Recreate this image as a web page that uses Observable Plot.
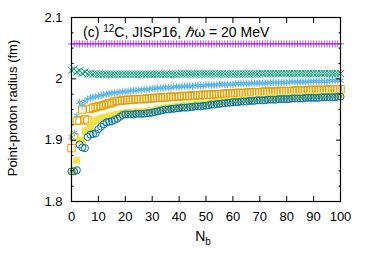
<!DOCTYPE html>
<html><head><meta charset="utf-8">
<script src="https://cdn.jsdelivr.net/npm/d3@7"></script>
<script src="https://cdn.jsdelivr.net/npm/@observablehq/plot@0.6"></script>
<style>body{margin:0;background:#fff} svg{font-family:"Liberation Sans",Arial,sans-serif}</style>
</head><body><div id="chart"></div>
<script>
const nb = [0,1,2,3,4,5,6,7,8,9,10,11,12,13,14,15,16,17,18,19,20,21,22,23,24,25,26,27,28,29,30,31,32,33,34,35,36,37,38,39,40,41,42,43,44,45,46,47,48,49,50,51,52,53,54,55,56,57,58,59,60,61,62,63,64,65,66,67,68,69,70,71,72,73,74,75,76,77,78,79,80,81,82,83,84,85,86,87,88,89,90,91,92,93,94,95,96,97,98,99,100];

const purple = [2.057,2.057,2.057,2.057,2.057,2.057,2.057,2.057,2.057,2.057,2.057,2.057,2.057,2.057,2.057,2.057,2.057,2.057,2.057,2.057,2.057,2.057,2.057,2.057,2.057,2.057,2.057,2.057,2.057,2.057,2.057,2.057,2.057,2.057,2.057,2.057,2.057,2.057,2.057,2.057,2.057,2.057,2.057,2.057,2.057,2.057,2.057,2.057,2.057,2.057,2.057,2.057,2.057,2.057,2.057,2.057,2.057,2.057,2.057,2.057,2.057,2.057,2.057,2.057,2.057,2.057,2.057,2.057,2.057,2.057,2.057,2.057,2.057,2.057,2.057,2.057,2.057,2.057,2.057,2.057,2.057,2.057,2.057,2.057,2.057,2.057,2.057,2.057,2.057,2.057,2.057,2.057,2.057,2.057,2.057,2.057,2.057,2.057,2.057,2.057,2.057];

const green = [2.014,2.016,2.011,2.013,2.009,2.011,2.008,2.009,2.008,2.008,
2.0075,2.0075,2.0075,2.0075,2.0075,2.0075,2.0075,2.0075,2.0075,2.0075,
2.0075,2.0075,2.0075,2.0075,2.0075,2.0075,2.0075,2.0075,2.0075,2.0075,
2.0075,2.0075,2.0075,2.0075,2.0075,2.0075,2.0075,2.0075,2.0075,2.0075,
2.008,2.008,2.008,2.008,2.008,2.008,2.008,2.008,2.008,2.008,
2.008,2.008,2.008,2.008,2.008,2.008,2.008,2.008,2.008,2.008,
2.008,2.008,2.008,2.008,2.008,2.008,2.008,2.008,2.008,2.008,
2.0085,2.0085,2.0085,2.0085,2.0085,2.0085,2.0085,2.0085,2.0085,2.0085,
2.0085,2.0085,2.0085,2.0085,2.0085,2.0085,2.0085,2.0085,2.0085,2.0085,
2.0085,2.0085,2.0085,2.0085,2.0085,2.0085,2.0085,2.0085,2.0085,2.0085,2.0085];

const lightblue = [1.905,1.912,1.940,1.962,1.957,1.963,1.967,1.969,1.970,1.971,
1.972,1.973,1.974,1.975,1.976,1.977,1.977,1.978,1.978,1.979,
1.979,1.980,1.980,1.981,1.981,1.982,1.982,1.983,1.983,1.983,
1.984,1.984,1.985,1.985,1.985,1.986,1.986,1.986,1.987,1.987,
1.987,1.987,1.988,1.988,1.988,1.988,1.989,1.989,1.989,1.989,
1.990,1.990,1.990,1.990,1.990,1.991,1.991,1.991,1.991,1.991,
1.991,1.992,1.992,1.992,1.992,1.992,1.992,1.993,1.993,1.993,
1.993,1.993,1.993,1.993,1.994,1.994,1.994,1.994,1.994,1.994,
1.994,1.995,1.995,1.995,1.995,1.995,1.995,1.995,1.995,1.996,
1.996,1.996,1.996,1.996,1.996,1.996,1.997,1.997,1.997,1.997,1.997];

const orange = [1.887,1.905,1.932,1.932,1.950,1.934,1.932,1.951,1.953,1.954,
1.955,1.956,1.957,1.959,1.960,1.961,1.963,1.964,1.964,1.965,
1.965,1.966,1.966,1.966,1.967,1.967,1.967,1.967,1.968,1.968,
1.968,1.969,1.969,1.969,1.970,1.970,1.970,1.971,1.971,1.971,
1.971,1.972,1.972,1.972,1.972,1.973,1.973,1.973,1.973,1.974,
1.974,1.974,1.974,1.975,1.975,1.975,1.975,1.976,1.976,1.976,
1.976,1.977,1.977,1.977,1.977,1.977,1.978,1.978,1.978,1.978,
1.978,1.979,1.979,1.979,1.979,1.979,1.979,1.980,1.980,1.980,
1.980,1.980,1.980,1.981,1.981,1.981,1.981,1.981,1.981,1.982,
1.982,1.982,1.982,1.982,1.982,1.982,1.983,1.983,1.983,1.983,1.983];

const yellow = [1.849,1.851,1.867,1.900,1.899,1.914,1.916,1.920,1.930,1.932,
1.934,1.936,1.937,1.938,1.939,1.940,1.941,1.942,1.943,1.944,
1.945,1.945,1.945,1.946,1.946,1.946,1.947,1.947,1.947,1.948,
1.948,1.949,1.950,1.951,1.952,1.953,1.953,1.954,1.954,1.955,
1.955,1.956,1.956,1.956,1.957,1.957,1.958,1.958,1.958,1.959,
1.959,1.960,1.961,1.961,1.962,1.962,1.963,1.963,1.964,1.964,
1.965,1.965,1.965,1.966,1.966,1.966,1.967,1.967,1.967,1.968,
1.968,1.968,1.968,1.969,1.969,1.969,1.969,1.970,1.970,1.970,
1.970,1.970,1.971,1.971,1.971,1.971,1.971,1.972,1.972,1.972,
1.972,1.972,1.972,1.973,1.973,1.973,1.973,1.973,1.973,1.974,1.974];

const blue = [1.849,1.849,1.851,1.893,1.888,1.887,1.905,1.909,1.910,1.911,
1.918,1.922,1.926,1.929,1.930,1.931,1.933,1.935,1.938,1.941,
1.942,1.942,1.942,1.942,1.943,1.943,1.943,1.943,1.944,1.944,
1.945,1.946,1.947,1.948,1.949,1.950,1.950,1.951,1.951,1.952,
1.952,1.953,1.953,1.953,1.954,1.954,1.955,1.955,1.955,1.956,
1.956,1.957,1.958,1.958,1.959,1.959,1.960,1.960,1.961,1.961,
1.962,1.962,1.962,1.963,1.963,1.963,1.964,1.964,1.964,1.965,
1.965,1.965,1.965,1.966,1.966,1.966,1.966,1.967,1.967,1.967,
1.967,1.967,1.968,1.968,1.968,1.968,1.968,1.969,1.969,1.969,
1.969,1.969,1.969,1.970,1.970,1.970,1.970,1.970,1.970,1.971,1.971];

const xTicks = [0,10,20,30,40,50,60,70,80,90,100];
const yTicks = [1.8,1.9,2,2.1];
const yMinor = [1.825,1.85,1.875,1.925,1.95,1.975,2.025,2.05,2.075];

const series = [
  {values: purple, symbol: "plus", color: "#a020f0", filled: false, r: 2.4, sw: 0.8},
  {values: green, symbol: "times", color: "#009e73", filled: false, r: 3.4, sw: 1},
  {values: lightblue, symbol: "asterisk", color: "#56b4e9", filled: false, r: 3.4, sw: 1},
  {values: orange, symbol: "square", color: "#e69f00", filled: false, r: 4.2, sw: 1},
  {values: yellow, symbol: "square", color: "#f0e442", filled: true, r: 3.8, sw: 1},
  {values: blue, symbol: "circle", color: "#0072b2", filled: false, r: 3.5, sw: 1}
];

const dotMarks = series.map(s => Plot.dot(
  s.values.map((v, i) => ({nb: nb[i], v})),
  {x: "nb", y: "v", symbol: s.symbol, r: s.r,
   stroke: s.filled ? "none" : s.color, fill: s.filled ? s.color : "none", strokeWidth: s.sw}
));

const chart = Plot.plot({
  width: 374, height: 262,
  marginLeft: 71, marginRight: 34, marginTop: 17, marginBottom: 61,
  x: {domain: [0, 100]},
  y: {domain: [1.8, 2.1]},
  style: {fontSize: "13px", fontFamily: "'Liberation Sans', Arial, sans-serif", background: "white", color: "black", overflow: "visible"},
  marks: [
    ...dotMarks,
    Plot.axisX(xTicks, {anchor: "bottom", tickSize: -5, tickPadding: 15, tickFormat: d => String(d), label: null, fontSize: 13}),
    Plot.axisX(xTicks, {anchor: "top", tickSize: -5, text: null, label: null}),
    Plot.axisY(yTicks, {anchor: "left", tickSize: -5, tickPadding: 14, tickFormat: d => String(d), label: null, fontSize: 13}),
    Plot.axisY(yTicks, {anchor: "right", tickSize: -5, text: null, label: null}),
    Plot.axisY(yMinor, {anchor: "left", tickSize: -2.5, text: null, label: null}),
    Plot.axisY(yMinor, {anchor: "right", tickSize: -2.5, text: null, label: null}),
    Plot.frame({stroke: "black", strokeWidth: 1.2})
  ]
});
document.getElementById("chart").appendChild(chart);

const svg = d3.select(chart);
const title = svg.append("text").attr("x", 83).attr("y", 37).attr("font-size", 14).attr("text-anchor", "start").attr("fill", "black");
title.append("tspan").text("(c) ");
title.append("tspan").attr("font-size", 10).attr("dy", -5).text("12");
title.append("tspan").attr("dy", 5).text("C, JISP16, ");
title.append("tspan").attr("font-style", "italic").text("ℏ");
title.append("tspan").text("ω = 20 MeV");

const xl = svg.append("text").attr("x", 203).attr("y", 241).attr("font-size", 14).attr("text-anchor", "middle").attr("fill", "black");
xl.append("tspan").text("N");
xl.append("tspan").attr("font-size", 10).attr("dy", 4).text("b");

svg.append("text").attr("transform", "translate(17,108) rotate(-90)").attr("text-anchor", "middle")
  .attr("font-size", 13).attr("fill", "black").text("Point-proton radius (fm)");
</script></body></html>
